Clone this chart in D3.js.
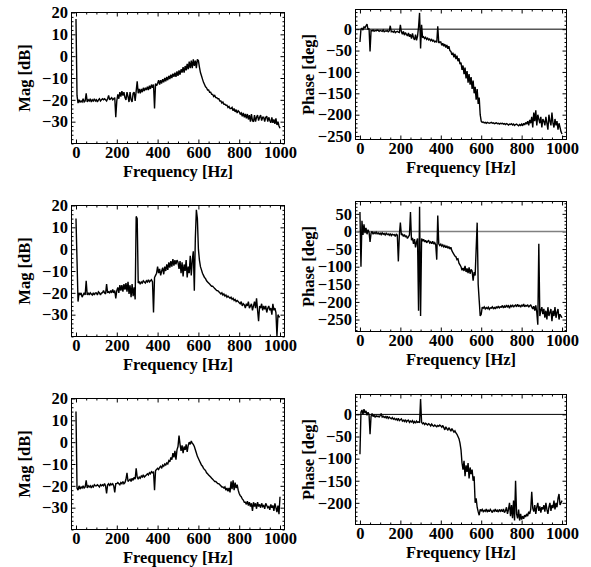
<!DOCTYPE html>
<html>
<head>
<meta charset="utf-8">
<script src="https://cdn.jsdelivr.net/npm/d3@7"></script>
<style>
  body { margin: 0; background: #fff; }
  svg text { font-family: "Liberation Serif", "Times New Roman", serif; font-weight: bold; }
</style>
</head>
<body>
<svg id="chart" width="591" height="567"></svg>
<script>
// Tick values
const freqTicks = [0, 200, 400, 600, 800, 1000];
const magTicks = [-30, -20, -10, 0, 10, 20];
const phaseTicksA = [-250, -200, -150, -100, -50, 0];
const phaseTicksB = [-250, -200, -150, -100, -50, 0, 50];
const phaseTicksC = [-200, -150, -100, -50, 0];

// Sampling grid of the measured responses (Hz)
const freqStepHz = 5;
const freq = d3.range(0, 1000 + freqStepHz, freqStepHz);

// Measurement 1
const mag1 = [
  17, -18, -21.5, -20, -21, -20.5, -21, -19.5, -21, -20.5, -17, -21, -20, -20.5, -19.5, -21, -20, -20.5, -19.5, -20.5,
  -20, -21, -20, -19.5, -20.5, -20, -19.5, -20, -19.5, -20, -20.5, -19.5, -18, -20, -19.5, -19, -20, -19.5, -19, -28,
  -20.5, -17.5, -19.5, -16.5, -18.5, -16, -18, -16.5, -19, -20, -16.5, -18.5, -21, -16.5, -20, -21, -17, -16.5, -20.5, -16,
  -11.5, -17, -15, -17, -15, -16.5, -14.5, -16, -14.5, -15.5, -14, -15.5, -13.5, -15, -13, -14.5, -13, -24, -12.5, -13.5,
  -12.5, -11, -13, -11, -12.5, -10.5, -12, -10, -11.5, -9.5, -11, -9, -10.5, -8.5, -10, -8, -9.5, -7.5, -9.5, -7,
  -9, -6.5, -8.5, -6, -7.5, -5, -7.5, -4.5, -6.5, -3.5, -6, -2.5, -5.5, -2, -5.5, -1.5, -4.5, -2, -5.5, -1.5,
  -2, -5, -7.5, -9, -10.5, -12, -13, -14, -14.5, -15.5, -15.5, -16.5, -16.5, -17.5, -17.5, -18.5, -18, -19, -19, -19.5,
  -19.5, -20.5, -20.5, -21.5, -21, -22, -22, -22.5, -22.5, -23.5, -23, -24, -24, -23.5, -25, -24, -25.5, -24.5, -26, -25,
  -25.5, -26.5, -26, -27.5, -26, -28, -26.5, -28.5, -26.5, -29, -27, -30, -26.5, -29.5, -30, -27, -30, -28, -27, -29.5,
  -28, -27, -29.5, -28, -28, -30, -28, -27.5, -30, -28, -29.5, -30.5, -28, -30.5, -29, -31, -28.5, -31.5, -30, -32, -33
];
const phase1 = [
  -30, 0, 2, -2, 5, 3, 8, 12, -1, 2, -52, -3, -4, -2, -5, -3, -4, -2, -3, -5,
  -3, -4, -5, -2, -6, -4, -5, -3, -6, -4, 8, -6, -5, -7, -4, -8, -6, -5, -7, -8,
  10, -6, -12, -5, -14, -8, -12, -16, -9, -18, -12, -22, -10, -20, -25, -13, -26, -16, 5, 38,
  -45, 10, -20, -18, -22, -19, -24, -21, -25, -23, -27, -24, -28, -26, -30, -28, -31, 7, -32, -30,
  -30, -38, -33, -40, -35, -43, -37, -46, -40, -50, -52, -60, -55, -66, -58, -70, -62, -75, -68, -82,
  -78, -95, -85, -105, -90, -115, -98, -125, -105, -130, -112, -140, -120, -150, -135, -165, -140, -175, -160, -200,
  -215, -218, -217, -219, -218, -220, -218, -219, -220, -219, -218, -220, -219, -221, -220, -219, -221, -220, -222, -220,
  -221, -220, -222, -221, -223, -221, -222, -224, -222, -223, -221, -224, -222, -225, -223, -222, -224, -226, -223, -225,
  -222, -226, -220, -224, -218, -222, -215, -225, -212, -220, -205, -230, -195, -215, -190, -225, -200, -210, -220, -205,
  -230, -210, -215, -225, -205, -220, -235, -200, -215, -225, -195, -220, -230, -210, -225, -215, -235, -220, -230, -240, -245
];

// Measurement 2
const mag2 = [
  14, -5, -24, -20, -21, -20, -22, -21, -20, -21, -14.5, -21, -20, -21, -20, -20.5, -21, -20, -21, -20,
  -20, -21, -19.5, -20, -21, -20, -20, -19, -20, -20.5, -16, -20, -19.5, -20, -19, -20, -18.5, -20, -19, -22.5,
  -19, -17.5, -20, -16.5, -19, -16.5, -19.5, -16, -18.5, -15.5, -19.5, -15, -20.5, -16.5, -22, -16, -21.5, -17.5, -23, 15,
  14, -15.5, -15, -16, -15, -15.5, -14.5, -15, -15.5, -14.5, -15, -14, -15, -14.5, -14, -15, -29, -13, -12, -11,
  -8, -11, -9, -12, -10, -8.5, -11.5, -8, -10, -7, -9.5, -6, -8.5, -5.5, -8, -4.5, -7.5, -5, -7, -5,
  -6, -9, -5.5, -11, -6, -12.5, -7, -10, -5, -13, -8, -11, -3, -12, -5, -1, -19, 5, 18, 14,
  0, -5, -8, -9.5, -11, -12, -13, -13.5, -14.5, -15, -15.5, -16, -16.5, -17, -17, -17.5, -18, -18.5, -19, -19,
  -19.5, -20, -20.5, -20, -21, -20.5, -21.5, -21, -22, -21.5, -22, -22.5, -22, -23, -22.5, -23.5, -23, -24, -23.5, -24,
  -24.5, -25, -24, -26, -25, -25.5, -27, -25, -26, -24, -27, -26, -25, -28, -26, -24, -27, -22.5, -28, -33,
  -26, -27, -25, -28, -26, -27.5, -26, -29, -27, -26, -28, -27, -30, -25, -28, -27, -29, -40, -30, -31, -31
];
const phase2 = [
  55, -100, 30, -10, 20, -5, 10, -8, 5, -2, -30, -5, 0, -8, -3, -6, -2, -7, -4, -8,
  -5, -9, -4, -8, -6, -10, -5, -9, -7, -11, -6, -12, -8, -10, -9, -14, -7, -11, -85, -10,
  25, -10, -8, -14, -9, -16, -12, -20, -15, -10, 55, -25, -18, -35, -22, -45, -30, -20, -225, 70,
  -240, -20, -28, -22, -30, -25, -32, -28, -26, -33, -30, -35, -28, -36, -32, -38, -80, 45, -35, -40,
  -36, -42, -38, -44, -40, -46, -41, -48, -43, -50, -45, -55, -60, -65, -70, -72, -80, -78, -90, -95,
  -100, -110, -104, -112, -98, -115, -105, -118, -102, -120, -108, -112, -140, -115, -125, -50, 25, -150, -195, -240,
  -235, -215, -218, -214, -220, -216, -219, -215, -221, -217, -218, -214, -219, -216, -220, -213, -218, -212, -217, -214,
  -215, -210, -217, -212, -216, -209, -214, -211, -218, -210, -213, -208, -215, -211, -209, -214, -207, -212, -210, -215,
  -208, -213, -206, -214, -210, -212, -208, -215, -211, -209, -214, -220, -212, -225, -210, -230, -265, -35, -240, -225,
  -215, -235, -220, -245, -225, -250, -215, -240, -230, -220, -255, -225, -240, -215, -245, -230, -220, -250, -235, -240, -245
];

// Measurement 3
const mag3 = [
  14, -21, -22, -20, -21.5, -20.5, -21, -20, -21, -20.5, -17.5, -21, -20, -20.5, -20, -21, -20, -20.5, -19.5, -20,
  -20, -19.5, -20, -20.5, -19.5, -20, -19.5, -20, -19, -20, -23.5, -19.5, -19, -20, -19, -19.5, -19, -20, -23, -19,
  -19, -18.5, -19, -19.5, -18.5, -19, -18, -19, -18.5, -17, -14, -18, -17.5, -17, -18, -16.5, -17.5, -16, -17, -12,
  -16, -17, -16, -16.5, -15.5, -16, -15, -16, -15.5, -15, -14.5, -15, -14, -14.5, -13.5, -14, -13.5, -22, -13, -12.5,
  -12, -12.5, -11.5, -11, -12, -10.5, -11, -10, -10.5, -9.5, -10, -8.5, -9, -7, -8, -5, -7, -4, -8, -3.5,
  -2, 3, -1, -4, -1.5, -5, -2, -3.5, -1, -4.5, -1.5, 0, -1, 0.5, -0.5, -1, -2, -3.5, -5, -6.5,
  -7.5, -8.5, -9.5, -10.5, -11, -12, -12.5, -13, -14, -14.5, -15, -15.5, -16, -16.5, -17, -17.5, -18, -18, -18.5, -19,
  -19, -19.5, -20, -20.5, -20.5, -21, -20.5, -22, -21, -22.5, -21, -23, -18, -21.5, -17.5, -22, -18.5, -21, -19.5, -22,
  -23.5, -24.5, -25, -26, -26.5, -27.5, -27.5, -28.5, -27, -29, -27.5, -29.5, -28, -31.5, -27.5, -29.5, -28, -30.5, -27.5, -29.5,
  -28.5, -30, -28, -29.5, -29, -30.5, -28, -29, -30, -29.5, -31, -28.5, -30, -29, -31.5, -28, -30, -32, -29, -33, -25
];
const phase3 = [
  -90, 5, 10, 0, 12, 3, 8, -2, 5, 0, -45, -4, 2, -5, -2, -6, -3, -5, -4, -6,
  -3, 2, -6, -4, -7, -5, -8, -4, -9, -6, -8, -10, -7, -11, -9, -12, -10, -13, -9, -14,
  -12, -10, -15, -13, -16, -12, -17, -14, -13, -18, -15, -17, -14, -19, -16, -20, -15, -18, -17, -19,
  35, -18, -21, -19, -23, -20, -22, -24, -21, -23, -26, -22, -25, -27, -24, -26, -28, -25, -27, -24,
  -26, -29, -25, -30, -35, -28, -32, -36, -30, -34, -38, -32, -36, -40, -37, -42, -45, -50, -55, -65,
  -80, -110, -125, -105, -140, -115, -130, -110, -145, -120, -135, -125, -150, -140, -200, -190, -210, -220, -228, -215,
  -218, -215, -220, -217, -219, -214, -221, -216, -220, -215, -218, -222, -216, -219, -214, -220, -217, -221, -215, -219,
  -216, -220, -214, -222, -218, -210, -225, -215, -200, -230, -205, -235, -195, -240, -150, -225, -235, -215, -240, -225,
  -238, -230, -236, -228, -232, -225, -230, -220, -225, -215, -175, -212, -220, -205, -225, -210, -200, -218, -208, -222,
  -210, -215, -205, -220, -200, -215, -225, -210, -200, -218, -205, -212, -195, -215, -200, -210, -190, -180, -205, -200, -195
];

const freqLabel = "Frequency [Hz]";
const magLabel = "Mag [dB]";
const phaseLabel = "Phase [deg]";

// Panel layout: frame box [x, y, w, h] and vertical range of each plot
const panels = [
  { values: mag1,   ticks: magTicks,    minor: 2,  yDomain: [-40, 20],   box: [71.5, 12.5, 213, 131],  label: magLabel },
  { values: phase1, ticks: phaseTicksA, minor: 10, yDomain: [-258, 46],  box: [355.5, 9.5, 211, 130],  label: phaseLabel, zero: "#000" },
  { values: mag2,   ticks: magTicks,    minor: 2,  yDomain: [-40, 20],   box: [71.5, 205.5, 213, 131], label: magLabel },
  { values: phase2, ticks: phaseTicksB, minor: 10, yDomain: [-284, 85],  box: [355.5, 201.5, 211, 130], label: phaseLabel, zero: "#808080" },
  { values: mag3,   ticks: magTicks,    minor: 2,  yDomain: [-40, 20],   box: [71.5, 398.5, 213, 131], label: magLabel },
  { values: phase3, ticks: phaseTicksC, minor: 10, yDomain: [-249, 45],  box: [355.5, 394.5, 211, 130], label: phaseLabel, zero: "#000" }
];

const xDomain = [-22, 1022];
const tickFont = 16.5;
const titleFont = 16.5;
const svg = d3.select("#chart");
const fmt = d3.format("d");

panels.forEach((p, i) => {
  const [bx, by, bw, bh] = p.box;
  const x = d3.scaleLinear().domain(xDomain).range([0, bw]);
  const y = d3.scaleLinear().domain(p.yDomain).range([bh, 0]);
  const g = svg.append("g").attr("transform", `translate(${bx},${by})`);

  const clipId = "clip" + i;
  g.append("clipPath").attr("id", clipId)
    .append("rect").attr("x", 0).attr("y", 0).attr("width", bw).attr("height", bh);

  const xMinor = d3.range(0, 1001, 50).filter(v => !freqTicks.includes(v));
  const yMinor = d3.range(Math.ceil(p.yDomain[0] / p.minor) * p.minor, p.yDomain[1] + 0.001, p.minor)
    .filter(v => !p.ticks.includes(v));

  const styleAxis = sel => {
    sel.select(".domain").remove();
    sel.selectAll("line").attr("stroke", "#000").attr("stroke-width", 1);
    sel.selectAll("text").attr("font-size", tickFont).attr("fill", "#000");
  };

  // Labelled axes: bottom and left
  g.append("g").attr("transform", `translate(0,${bh})`)
    .call(d3.axisBottom(x).tickValues(freqTicks).tickSize(-4).tickPadding(3).tickFormat(fmt))
    .call(styleAxis);
  g.append("g")
    .call(d3.axisLeft(y).tickValues(p.ticks).tickSize(-4).tickPadding(3.5).tickFormat(fmt))
    .call(styleAxis);
  // Unlabelled mirrored ticks: top and right
  g.append("g").call(d3.axisTop(x).tickValues(freqTicks).tickSize(-4).tickFormat("")).call(styleAxis);
  g.append("g").attr("transform", `translate(${bw},0)`)
    .call(d3.axisRight(y).tickValues(p.ticks).tickSize(-4).tickFormat("")).call(styleAxis);
  // Minor ticks on all four sides
  g.append("g").attr("transform", `translate(0,${bh})`)
    .call(d3.axisBottom(x).tickValues(xMinor).tickSize(-2).tickFormat("")).call(styleAxis);
  g.append("g").call(d3.axisTop(x).tickValues(xMinor).tickSize(-2).tickFormat("")).call(styleAxis);
  g.append("g").call(d3.axisLeft(y).tickValues(yMinor).tickSize(-2).tickFormat("")).call(styleAxis);
  g.append("g").attr("transform", `translate(${bw},0)`)
    .call(d3.axisRight(y).tickValues(yMinor).tickSize(-2).tickFormat("")).call(styleAxis);

  // Zero-phase reference line
  if (p.zero) {
    g.append("line")
      .attr("x1", 0).attr("x2", bw).attr("y1", y(0)).attr("y2", y(0))
      .attr("stroke", p.zero).attr("stroke-width", p.zero === "#000" ? 1 : 1.4);
  }

  // Response curve
  const line = d3.line().x(d => x(d[0])).y(d => y(d[1]));
  g.append("path")
    .datum(d3.zip(freq, p.values))
    .attr("clip-path", `url(#${clipId})`)
    .attr("fill", "none").attr("stroke", "#000").attr("stroke-width", 1.4)
    .attr("stroke-linejoin", "miter").attr("stroke-miterlimit", 2)
    .attr("d", line);

  // Frame
  g.append("rect").attr("x", 0).attr("y", 0).attr("width", bw).attr("height", bh)
    .attr("fill", "none").attr("stroke", "#000").attr("stroke-width", 1);

  // Axis titles
  g.append("text")
    .attr("x", bw / 2).attr("y", bh + 33.5)
    .attr("text-anchor", "middle").attr("font-size", titleFont)
    .text(freqLabel);
  g.append("text")
    .attr("transform", `translate(${-41.5},${bh / 2}) rotate(-90)`)
    .attr("text-anchor", "middle").attr("font-size", titleFont)
    .text(p.label);
});
</script>
</body>
</html>
